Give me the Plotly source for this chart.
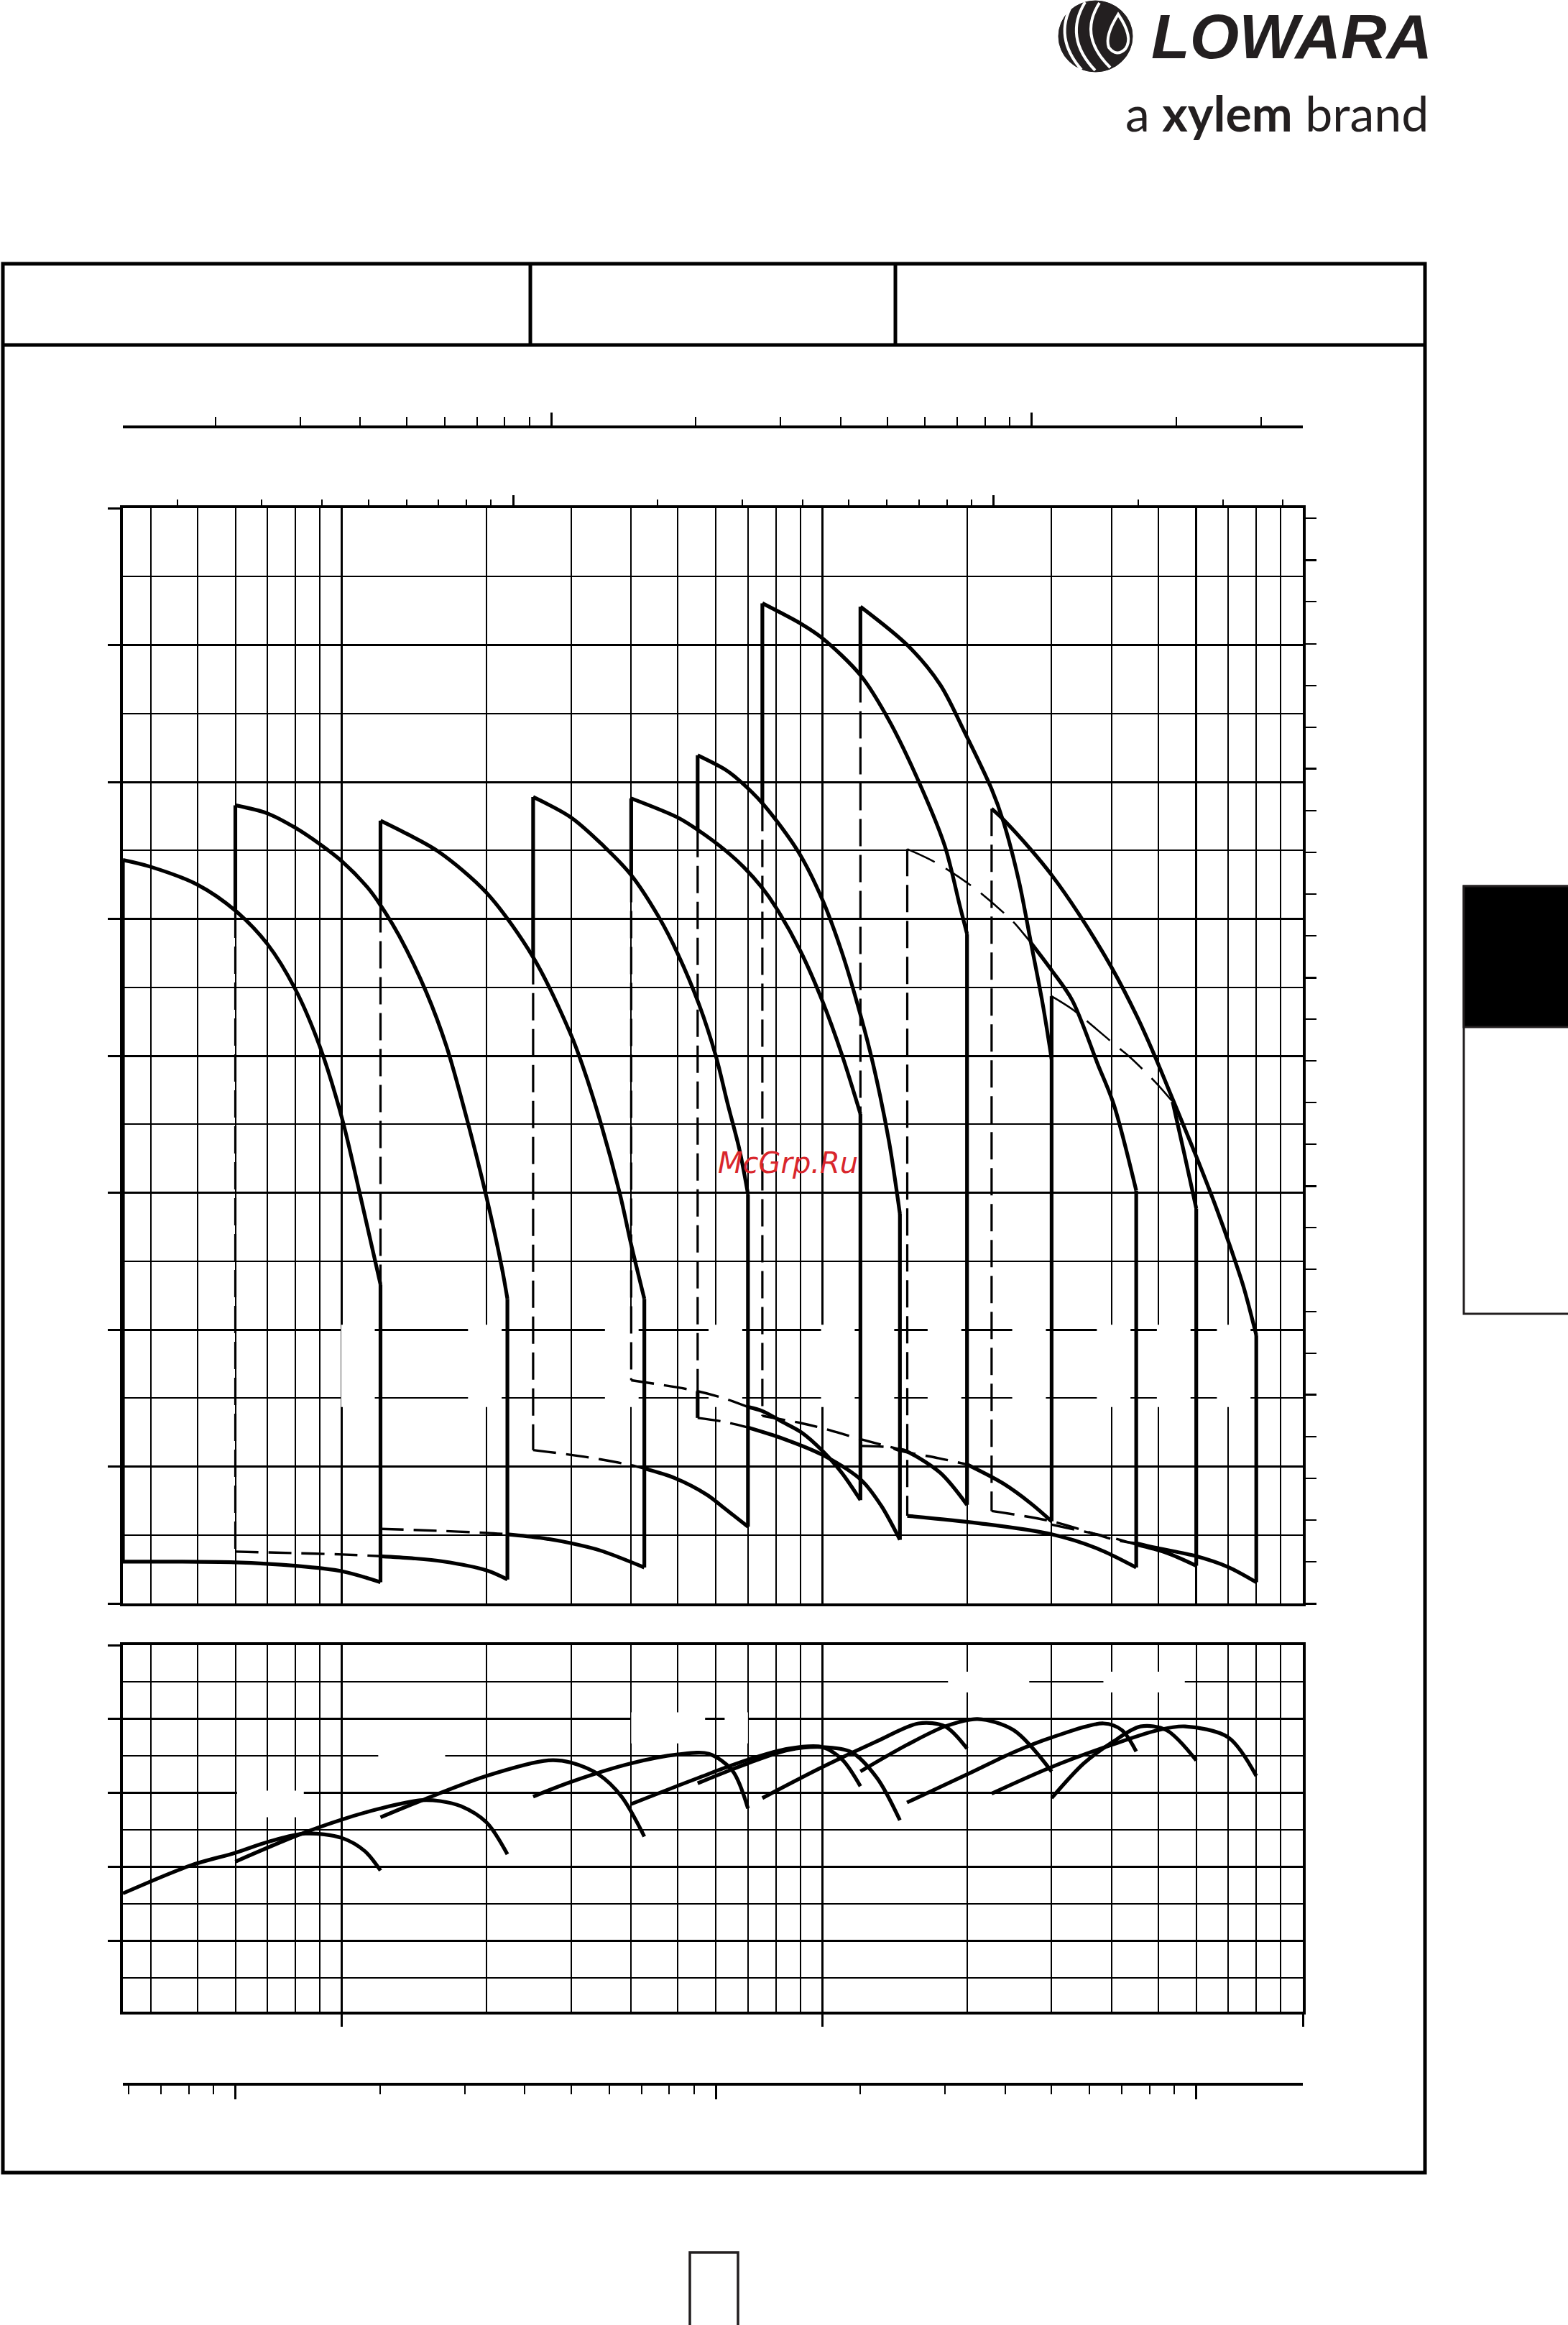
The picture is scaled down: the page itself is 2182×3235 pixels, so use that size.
import math
import plotly.graph_objects as go

FIG_W, FIG_H = 2182, 3235

# ---------------- axis values ----------------
Q_RANGE = [3.5, 1000]          # m3/h (log)
H_RANGE = [0, 160]             # m
EFF_RANGE = [40.4, 90]         # %
M_PER_FT = 0.3048
M3H_PER_IMPGPM = 0.272765
M3H_PER_USGPM = 0.227125
LMIN_PER_M3H = 1000.0 / 60.0

Q_GRID_MAJOR = [10, 100, 600, 1000]
Q_GRID_MINOR = [4, 5, 6, 7, 8, 9, 20, 30, 40, 50, 60, 70, 80, 90,
                200, 300, 400, 500, 700, 800, 900]
Q_EFF_MAJOR = [10, 100, 1000]
Q_EFF_MINOR = [4, 5, 6, 7, 8, 9, 20, 30, 40, 50, 60, 70, 80, 90,
               200, 300, 400, 500, 600, 700, 800, 900]
H_MAJOR = [0, 20, 40, 60, 80, 100, 120, 140, 160]
H_MINOR = [10, 30, 50, 70, 90, 110, 130, 150]
FT_MAJOR = [0, 100, 200, 300, 400, 500]
FT_MINOR = [20, 40, 60, 80, 120, 140, 160, 180, 220, 240, 260, 280,
            320, 340, 360, 380, 420, 440, 460, 480, 520]
IMP_MAJOR = [100, 1000]
IMP_MINOR = [20, 30, 40, 50, 60, 70, 80, 90, 200, 300, 400, 500, 600, 700, 800, 900, 2000, 3000]
US_MAJOR = [100, 1000]
US_MINOR = [20, 30, 40, 50, 60, 70, 80, 90, 200, 300, 400, 500, 600, 700, 800, 900, 2000, 3000, 4000]
LMIN_MAJOR = [100, 1000, 10000]
LMIN_MINOR = [60, 70, 80, 90, 200, 300, 400, 500, 600, 700, 800, 900,
              2000, 3000, 4000, 5000, 6000, 7000, 8000, 9000]
EFF_MAJOR = [50, 60, 70, 80, 90]
EFF_MINOR = [45, 55, 65, 75, 85]

# ---------------- head (H-Q) regions ----------------
R1_TOP_Q = [3.5, 4, 5, 6, 7, 8, 9, 10, 10.9, 12.03]
R1_TOP_H = [108.6, 107.6, 105.0, 101.2, 96.3, 89.7, 81.3, 70.9, 59.8, 46.6]
R1_BOT_Q = [3.5, 6, 8, 10, 12.03]
R1_BOT_H = [6.1, 6.0, 5.5, 4.7, 3.1]

R2_TOP_Q = [6, 7, 8, 9, 10, 11.3, 12.03, 13.16, 15, 16.5, 18.1, 20, 21.5, 22.1]
R2_TOP_H = [116.6, 115.4, 113.3, 110.9, 108.4, 104.6, 102.0, 97.5, 89.2, 81.4, 71.4, 59.3, 49.2, 44.5]
R2_BOTD_Q = [6, 8, 10, 12.03]
R2_BOTD_H = [7.57, 7.35, 7.15, 6.9]
R2_BOT_Q = [12.03, 14, 16.2, 20, 22.1]
R2_BOT_H = [6.9, 6.6, 6.14, 4.83, 3.5]

R3_TOP_Q = [12.03, 13.67, 15.9, 20, 25, 30, 31.6, 34.5, 37.9, 40, 42.6]
R3_TOP_H = [114.35, 112.4, 109.8, 103.8, 94.4, 83.0, 78.8, 70.4, 59.8, 52.4, 44.5]
R3_BOTD_Q = [12.03, 16, 20, 22.1]
R3_BOTD_H = [10.9, 10.6, 10.3, 10.1]
R3_BOT_Q = [22.1, 25.9, 30, 34.5, 42.6]
R3_BOT_H = [10.1, 9.58, 8.79, 7.73, 5.25]

R4_TOP_Q = [25, 30, 35.1, 40, 45.8, 50, 55.3, 60, 63.5, 67.2, 70]
R4_TOP_H = [117.8, 114.8, 110.6, 106.4, 100.1, 94.9, 87.6, 80.0, 73.0, 66.3, 59.8]
R4_BOTD_Q = [25, 30, 34.5, 40, 42.6]
R4_BOTD_H = [22.4, 21.7, 21.05, 20.2, 19.7]
R4_BOT_Q = [42.6, 49.3, 57.4, 62.8, 70]
R4_BOT_H = [19.7, 18.3, 15.9, 13.8, 11.2]

R5_TOP_Q = [40, 50, 55, 62.8, 68.5, 75, 80, 90, 100, 110, 120]
R5_TOP_H = [117.6, 114.8, 113.0, 110.0, 107.6, 104.5, 101.7, 95.3, 88.0, 80.0, 71.5]
R5_BOTD_Q = [40, 55, 62.8, 70]
R5_BOTD_H = [32.6, 31.0, 29.9, 28.7]
R5_BOT_Q = [70, 75, 82.6, 90.8, 100, 109.7, 120]
R5_BOT_H = [28.7, 28.1, 26.5, 24.9, 22.3, 19.1, 15.1]

R6_TOP_Q = [55, 62.8, 67.2, 75.2, 89.1, 100, 109.7, 120, 127.6, 137.6, 145]
R6_TOP_H = [123.9, 121.8, 120.2, 116.8, 109.8, 102.8, 95.2, 86.0, 78.7, 67.5, 56.9]
R6_BOTD_Q = [55, 62.8, 70]
R6_BOTD_H = [27.1, 26.5, 25.7]
R6_BOT_Q = [70, 82.6, 100, 120.6, 132.5, 145]
R6_BOT_H = [25.7, 24.1, 21.7, 18.0, 14.3, 9.3]

R7_TOP_Q = [75, 90.8, 100, 120, 137.6, 161.6, 179.9, 193.4, 200]
R7_TOP_H = [146.1, 143.0, 141.0, 135.6, 129.0, 118.8, 110.6, 101.8, 97.8]
R7_BOTD_Q = [75, 90.8, 100, 120, 145]
R7_BOTD_H = [27.4, 26.3, 25.6, 24.0, 22.5]
R7_BOT_Q = [145, 150, 175.8, 200]
R7_BOT_H = [22.5, 22.2, 19.1, 14.4]

R8_TOP_Q = [120, 151.2, 175.9, 197.0, 224.9, 238.1, 256.7, 271.7, 287.4, 300]
R8_TOP_H = [145.6, 139.8, 134.2, 127.5, 119.0, 114.2, 105.4, 96.5, 87.6, 79.5]
R8_BOTD_Q = [120, 137.6, 145, 175, 200]
R8_BOTD_H = [23.0, 22.8, 22.3, 21.2, 20.3]
R8_BOT_Q = [200, 238.1, 271.7, 300]
R8_BOT_H = [20.3, 17.5, 14.6, 12.0]

R9_TOPD_Q = [150.2, 172.4, 206.3, 249.4, 262.4, 271.7]
R9_TOPD_H = [110.2, 108.2, 104.6, 99.6, 97.8, 96.5]
R9_TOP_Q = [271.7, 300, 331.2, 374.1, 403.6, 450]
R9_TOP_H = [96.5, 92.5, 88.1, 78.8, 73.0, 60.3]
R9_BOT_Q = [150.2, 212.4, 300, 374, 450]
R9_BOT_H = [12.8, 11.7, 10.1, 8.0, 5.25]

R10_TOP_Q = [225, 238.1, 271.7, 300, 340.4, 399.9, 452, 492.3, 535.7, 600, 659.5, 711, 753, 800]
R10_TOP_H = [116.1, 114.5, 110.1, 106.4, 100.9, 92.9, 85.7, 79.9, 73.7, 65.3, 57.9, 51.5, 46.2, 39.2]
R10_BOTD_Q = [225, 300, 411, 450]
R10_BOTD_H = [13.5, 12.0, 9.2, 8.8]
R10_BOT_Q = [450, 497, 600, 700, 800]
R10_BOT_H = [8.8, 8.1, 6.9, 5.3, 3.1]

R11_TOPD_Q = [300, 331.2, 360.5, 411.2, 435.2, 492.3, 535.7]
R11_TOPD_H = [88.7, 86.8, 84.7, 81.3, 79.9, 76.2, 73.3]
R11_TOP_Q = [535.7, 567, 600]
R11_TOP_H = [73.3, 65.6, 57.7]
R11_BOTD_Q = [300, 400, 450]
R11_BOTD_H = [11.5, 9.6, 8.6]
R11_BOT_Q = [450, 520, 600]
R11_BOT_H = [8.6, 7.4, 5.5]

# vertical boundaries: (Q, H_from, H_to, style)
VERTICALS = [
    (3.5, 6.1, 108.6, 'solid'), (12.03, 46.6, 3.1, 'solid'),
    (6, 116.6, 101.2, 'solid'), (6, 101.2, 7.57, 'vdash'), (22.1, 44.5, 3.5, 'solid'),
    (12.03, 114.35, 102.0, 'solid'), (12.03, 102.0, 10.9, 'vdash'), (42.6, 44.5, 5.25, 'solid'),
    (25, 117.8, 94.4, 'solid'), (25, 94.4, 22.4, 'vdash'), (70, 59.8, 11.2, 'solid'),
    (40, 117.6, 106.4, 'solid'), (40, 106.4, 32.6, 'vdash'), (120, 71.5, 15.1, 'solid'),
    (55, 123.9, 113.0, 'solid'), (55, 113.0, 31.0, 'vdash'), (55, 31.0, 27.1, 'solid'), (145, 56.9, 9.3, 'solid'),
    (75, 146.1, 116.8, 'solid'), (75, 116.8, 27.4, 'vdash'), (200, 97.8, 14.4, 'solid'),
    (120, 145.6, 135.6, 'solid'), (120, 135.6, 23.0, 'vdash'), (300, 79.5, 12.0, 'solid'),
    (150.2, 110.2, 12.8, 'vdash'), (450, 60.3, 5.25, 'solid'),
    (225, 116.1, 13.5, 'vdash'), (800, 39.2, 3.1, 'solid'),
    (300, 88.7, 79.5, 'solid'), (600, 57.7, 5.5, 'solid'),
]
REGION_RIGHT_Q = [12.03, 22.1, 42.6, 70, 120, 145, 200, 300, 450, 600, 800]
LABEL_H = [28.7, 40.7]

# ---------------- efficiency curves ----------------
E1_Q = [3.5, 4.85, 6.0, 7.04, 8.4, 10.0, 11.17, 12.03]
E1_V = [56.4, 60.2, 61.9, 63.4, 64.5, 63.9, 62.1, 59.5]
E2_Q = [6.0, 8.04, 10.0, 12.03, 14.54, 16.0, 17.7, 20.0, 22.1]
E2_V = [60.7, 64.2, 66.4, 67.9, 69.0, 68.9, 68.2, 66.0, 61.7]
E3_Q = [12.03, 14.54, 20.0, 26.9, 30.0, 34.2, 38.2, 42.6]
E3_V = [66.7, 68.9, 72.3, 74.4, 74.1, 72.5, 69.5, 64.1]
E4_Q = [25, 30, 40, 50, 58, 65, 70]
E4_V = [69.5, 71.5, 74.0, 75.2, 75.3, 73.0, 67.9]
E5_Q = [40, 55, 70, 85, 100, 110, 120]
E5_V = [68.5, 72.0, 74.5, 76.0, 76.2, 74.5, 70.9]
E6_Q = [55, 70, 85, 100, 115, 130, 145]
E6_V = [71.3, 74.0, 75.8, 76.2, 75.5, 72.0, 66.3]
E7_Q = [75, 100, 130, 158.5, 180, 200]
E7_V = [69.3, 73.5, 77.0, 79.4, 79.0, 76.0]
E8_Q = [120, 150, 180, 210.5, 250, 300]
E8_V = [72.9, 76.5, 79.0, 80.0, 78.5, 72.9]
E9_Q = [150, 200, 250, 300, 384.8, 420, 450]
E9_V = [68.7, 72.5, 75.5, 77.5, 79.4, 78.5, 75.6]
E10_Q = [225, 300, 400, 500, 568.6, 700, 800]
E10_V = [69.9, 73.5, 76.5, 78.5, 79.0, 77.5, 72.3]
E11_Q = [300, 350, 400, 459.4, 520, 600]
E11_V = [69.3, 74.0, 76.8, 79.0, 78.5, 74.4]
EFF_MASKS = [([6.05, 8.33], [66.7, 70.3]), ([11.9, 16.4], [72.0, 75.3]),
             ([40, 57], [76.7, 80.9]), ([62.6, 70], [76.7, 80.9]),
             ([182.6, 269.5], [83.6, 86.4]), ([384.5, 568], [83.6, 86.4])]

# ---------------- figure ----------------
def px(x):
    return x / FIG_W


def py(y):
    return 1 - y / FIG_H


X_DOM = [px(171), px(1813)]
MAIN_DOM = [py(2231), py(707)]
EFF_DOM = [py(2799), py(2289)]
lg = math.log10

fig = go.Figure()

STYLES = {
    'solid': dict(width=5.2, dash='solid'),
    'vdash': dict(width=3.2, dash='38px,12px'),
    'bdash': dict(width=3.4, dash='32px,14px'),
    'tdash': dict(width=2.6, dash='42px,18px'),
}


def stroke(q, h, kind, xa='x', ya='y'):
    fig.add_trace(go.Scatter(
        x=q, y=h, mode='lines', xaxis=xa, yaxis=ya, hoverinfo='skip', showlegend=False,
        line=dict(color='black', shape='spline' if len(q) > 2 else 'linear',
                  smoothing=0.9, **STYLES[kind])))


def mask(qs, hs, xa='x', ya='y'):
    fig.add_trace(go.Scatter(
        x=[qs[0], qs[1], qs[1], qs[0], qs[0]], y=[hs[0], hs[0], hs[1], hs[1], hs[0]],
        mode='lines', fill='toself', fillcolor='white', line=dict(width=0, color='white'),
        xaxis=xa, yaxis=ya, hoverinfo='skip', showlegend=False))


# white label masks (labels removed from the original)
for qr in REGION_RIGHT_Q:
    mask([qr * 0.828, qr * 0.973], LABEL_H)
for qs, hs in EFF_MASKS:
    mask(qs, hs, 'x4', 'y3')

tops = [(R1_TOP_Q, R1_TOP_H), (R2_TOP_Q, R2_TOP_H), (R3_TOP_Q, R3_TOP_H), (R4_TOP_Q, R4_TOP_H),
        (R5_TOP_Q, R5_TOP_H), (R6_TOP_Q, R6_TOP_H), (R7_TOP_Q, R7_TOP_H), (R8_TOP_Q, R8_TOP_H),
        (R9_TOP_Q, R9_TOP_H), (R10_TOP_Q, R10_TOP_H), (R11_TOP_Q, R11_TOP_H)]
for q, h in tops:
    stroke(q, h, 'solid')
for q, h in [(R9_TOPD_Q, R9_TOPD_H), (R11_TOPD_Q, R11_TOPD_H)]:
    stroke(q, h, 'tdash')
bots = [(R1_BOT_Q, R1_BOT_H), (R2_BOT_Q, R2_BOT_H), (R3_BOT_Q, R3_BOT_H), (R4_BOT_Q, R4_BOT_H),
        (R5_BOT_Q, R5_BOT_H), (R6_BOT_Q, R6_BOT_H), (R7_BOT_Q, R7_BOT_H), (R8_BOT_Q, R8_BOT_H),
        (R9_BOT_Q, R9_BOT_H), (R10_BOT_Q, R10_BOT_H), (R11_BOT_Q, R11_BOT_H)]
for q, h in bots:
    stroke(q, h, 'solid')
botd = [(R2_BOTD_Q, R2_BOTD_H), (R3_BOTD_Q, R3_BOTD_H), (R4_BOTD_Q, R4_BOTD_H), (R5_BOTD_Q, R5_BOTD_H),
        (R6_BOTD_Q, R6_BOTD_H), (R7_BOTD_Q, R7_BOTD_H), (R8_BOTD_Q, R8_BOTD_H), (R10_BOTD_Q, R10_BOTD_H),
        (R11_BOTD_Q, R11_BOTD_H)]
for q, h in botd:
    stroke(q, h, 'bdash')
for qv, h0, h1, kind in VERTICALS:
    stroke([qv, qv], [h0, h1], kind)

for q, v in [(E1_Q, E1_V), (E2_Q, E2_V), (E3_Q, E3_V), (E4_Q, E4_V), (E5_Q, E5_V), (E6_Q, E6_V),
             (E7_Q, E7_V), (E8_Q, E8_V), (E9_Q, E9_V), (E10_Q, E10_V), (E11_Q, E11_V)]:
    stroke(q, v, 'solid', 'x4', 'y3')

# invisible anchors for secondary unit axes
for xa, ya, xv, yv in [('x2', 'y', 100, 50), ('x3', 'y', 100, 50), ('x', 'y2', 10, 50), ('x5', 'y3', 1000, 60)]:
    fig.add_trace(go.Scatter(x=[xv], y=[yv], xaxis=xa, yaxis=ya, mode='markers',
                             marker=dict(opacity=0, size=1), hoverinfo='skip', showlegend=False))

BLK = 'black'


def minor(vals, grid=False, ticks='', ticklen=0, tickwidth=1.5, gw=1.5):
    return dict(tickmode='array', tickvals=vals, showgrid=grid, gridcolor=BLK, gridwidth=gw,
                ticks=ticks, ticklen=ticklen, tickwidth=tickwidth, tickcolor=BLK)


common_q = dict(type='log', domain=X_DOM, showticklabels=False, zeroline=False)

fig.update_layout(
    width=FIG_W, height=FIG_H, autosize=False,
    margin=dict(l=0, r=0, t=0, b=0, pad=0),
    paper_bgcolor='white', plot_bgcolor='white', showlegend=False,
    xaxis=dict(common_q, anchor='y', range=[lg(Q_RANGE[0]), lg(Q_RANGE[1])],
               tickmode='array', tickvals=Q_GRID_MAJOR, ticks='', showgrid=True,
               gridcolor=BLK, gridwidth=3, showline=True, mirror=True, linecolor=BLK, linewidth=4,
               minor=minor(Q_GRID_MINOR, grid=True)),
    yaxis=dict(domain=MAIN_DOM, anchor='x', range=H_RANGE, tickmode='array', tickvals=H_MAJOR,
               ticks='outside', ticklen=17, tickwidth=3, tickcolor=BLK, showticklabels=False,
               showgrid=True, gridcolor=BLK, gridwidth=3, zeroline=False,
               showline=True, mirror=True, linecolor=BLK, linewidth=4,
               minor=minor(H_MINOR, grid=True)),
    yaxis2=dict(overlaying='y', side='right', anchor='x', range=[0, H_RANGE[1] / M_PER_FT],
                tickmode='array', tickvals=FT_MAJOR, ticks='outside', ticklen=18, tickwidth=3,
                tickcolor=BLK, showticklabels=False, showgrid=False, zeroline=False, showline=False,
                minor=minor(FT_MINOR, ticks='outside', ticklen=18, tickwidth=1.5)),
    xaxis2=dict(common_q, overlaying='x', anchor='free', position=py(594), side='top',
                range=[lg(Q_RANGE[0] / M3H_PER_IMPGPM), lg(Q_RANGE[1] / M3H_PER_IMPGPM)],
                tickmode='array', tickvals=IMP_MAJOR, ticks='outside', ticklen=18, tickwidth=3,
                tickcolor=BLK, showgrid=False, showline=True, linecolor=BLK, linewidth=4,
                minor=minor(IMP_MINOR, ticks='outside', ticklen=12, tickwidth=1.5)),
    xaxis3=dict(common_q, overlaying='x', anchor='free', position=py(707), side='top',
                range=[lg(Q_RANGE[0] / M3H_PER_USGPM), lg(Q_RANGE[1] / M3H_PER_USGPM)],
                tickmode='array', tickvals=US_MAJOR, ticks='outside', ticklen=18, tickwidth=3,
                tickcolor=BLK, showgrid=False, showline=False,
                minor=minor(US_MINOR, ticks='outside', ticklen=12, tickwidth=1.5)),
    xaxis4=dict(common_q, anchor='y3', range=[lg(Q_RANGE[0]), lg(Q_RANGE[1])],
                tickmode='array', tickvals=Q_EFF_MAJOR, ticks='outside', ticklen=17, tickwidth=3,
                tickcolor=BLK, showgrid=True, gridcolor=BLK, gridwidth=3,
                showline=True, mirror=True, linecolor=BLK, linewidth=4,
                minor=minor(Q_EFF_MINOR, grid=True)),
    yaxis3=dict(domain=EFF_DOM, anchor='x4', range=EFF_RANGE, tickmode='array', tickvals=EFF_MAJOR,
                ticks='outside', ticklen=17, tickwidth=3, tickcolor=BLK, showticklabels=False,
                showgrid=True, gridcolor=BLK, gridwidth=3, zeroline=False,
                showline=True, mirror=True, linecolor=BLK, linewidth=4,
                minor=minor(EFF_MINOR, grid=True)),
    xaxis5=dict(common_q, overlaying='x4', anchor='free', position=py(2900), side='bottom',
                range=[lg(Q_RANGE[0] * LMIN_PER_M3H), lg(Q_RANGE[1] * LMIN_PER_M3H)],
                tickmode='array', tickvals=LMIN_MAJOR, ticks='outside', ticklen=19, tickwidth=3,
                tickcolor=BLK, showgrid=False, showline=True, linecolor=BLK, linewidth=4,
                minor=minor(LMIN_MINOR, ticks='outside', ticklen=12, tickwidth=1.5)),
)

# ---------------- page decoration ----------------
DARK = '#231f20'
shapes = [
    dict(type='rect', xref='paper', yref='paper', x0=px(4), x1=px(1983), y0=py(3023), y1=py(367),
         line=dict(color=BLK, width=5), layer='below'),
    dict(type='line', xref='paper', yref='paper', x0=px(4), x1=px(1983), y0=py(480), y1=py(480),
         line=dict(color=BLK, width=5)),
    dict(type='line', xref='paper', yref='paper', x0=px(738), x1=px(738), y0=py(367), y1=py(480),
         line=dict(color=BLK, width=5)),
    dict(type='line', xref='paper', yref='paper', x0=px(1246), x1=px(1246), y0=py(367), y1=py(480),
         line=dict(color=BLK, width=5)),
    dict(type='rect', xref='paper', yref='paper', x0=px(2037), x1=px(2200), y0=py(1828), y1=py(1233),
         line=dict(color=DARK, width=3), fillcolor='white'),
    dict(type='rect', xref='paper', yref='paper', x0=px(2037), x1=px(2200), y0=py(1429), y1=py(1233),
         line=dict(color=DARK, width=3), fillcolor=BLK),
    dict(type='rect', xref='paper', yref='paper', x0=px(960), x1=px(1027), y0=py(3260), y1=py(3134),
         line=dict(color=DARK, width=3.5), fillcolor='rgba(0,0,0,0)'),
    # logo swirl
    dict(type='circle', xref='paper', yref='paper', x0=px(1473), x1=px(1576), y0=py(100), y1=py(1),
         line=dict(color=DARK, width=1), fillcolor=DARK),
]


def ppath(pts):
    out = []
    for cmd, coords in pts:
        s = cmd
        for i in range(0, len(coords), 2):
            s += f" {px(coords[i]):.5f},{py(coords[i + 1]):.5f}"
        out.append(s)
    return ' '.join(out)


swirls = [
    [('M', [1492, 6]), ('Q', [1466, 52, 1505, 97])],
    [('M', [1510, 3]), ('Q', [1480, 52, 1524, 98])],
    [('M', [1530, 4]), ('Q', [1500, 50, 1545, 94])],
]
for sw in swirls:
    shapes.append(dict(type='path', xref='paper', yref='paper', path=ppath(sw),
                       line=dict(color='white', width=4)))
shapes.append(dict(type='path', xref='paper', yref='paper',
                   path=ppath([('M', [1556, 20]), ('Q', [1578, 52, 1566, 68]), ('Q', [1554, 80, 1543, 66]),
                               ('Q', [1537, 50, 1556, 20]), ('Z', [])]),
                   line=dict(color='white', width=4), fillcolor=DARK))
fig.update_layout(shapes=shapes)

fig.add_annotation(xref='paper', yref='paper', x=px(1995), y=py(50), xanchor='right', yanchor='middle',
                   text='<b><i>LOWARA</i></b>', showarrow=False,
                   font=dict(family='Liberation Sans', size=88, color=DARK))
fig.add_annotation(xref='paper', yref='paper', x=px(1990), y=py(156), xanchor='right', yanchor='middle',
                   text='a <b>xylem</b> brand', showarrow=False,
                   font=dict(family='Lato', size=68, color=DARK))
fig.add_annotation(xref='paper', yref='paper', x=px(1096), y=py(1618), xanchor='center', yanchor='middle',
                   text='<i>McGrp.Ru</i>', showarrow=False,
                   font=dict(family='DejaVu Sans', size=40, color='#d9262c'))

fig.write_html('out.html', config={'displayModeBar': False},
               post_script="document.body.style.margin='0px';")
